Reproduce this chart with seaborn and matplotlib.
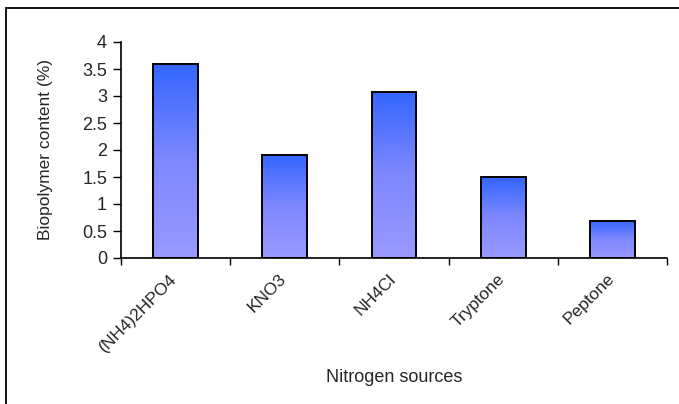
import numpy as np
import pandas as pd
import matplotlib
matplotlib.use("Agg")
import matplotlib.pyplot as plt
import matplotlib.transforms as mtransforms
import seaborn as sns
from matplotlib.patches import Rectangle
from matplotlib.colors import LinearSegmentedColormap

categories = ["(NH4)2HPO4", "KNO3", "NH4Cl", "Tryptone", "Peptone"]
values = [3.6, 1.9, 3.08, 1.5, 0.69]
yticks = [0, 0.5, 1, 1.5, 2, 2.5, 3, 3.5, 4]
ytick_labels = ["0", "0.5", "1", "1.5", "2", "2.5", "3", "3.5", "4"]

sns.set_style("white")
plt.rcParams['font.family'] = ['Liberation Sans', 'DejaVu Sans']

df = pd.DataFrame({"source": categories, "value": values})

fig = plt.figure(figsize=(6.79, 4.04), dpi=100)
ax = fig.add_axes([121/679, 1-258/404, (667-121)/679, (258-42)/404])

sns.barplot(data=df, x="source", y="value", ax=ax, width=0.41,
            color="#6680FF", edgecolor="black", linewidth=1.4, zorder=3)

cmap = LinearSegmentedColormap.from_list("g", ["#9999FF", "#7F88FF", "#3366FF"])
grad = np.linspace(0, 1, 256).reshape(-1, 1)
for p in ax.patches:
    x0, y0 = p.get_x(), p.get_y()
    w, h = p.get_width(), p.get_height()
    im = ax.imshow(grad, cmap=cmap, aspect="auto", origin="lower",
                   extent=[x0, x0 + w, y0, y0 + h], zorder=2.5)
    im.set_clip_path(p)
    p.set_facecolor("none")

ax.set_xlim(-0.5, len(categories) - 0.5)
ax.set_ylim(0, 4)
ax.set_yticks(yticks)
ax.set_yticklabels(ytick_labels, fontsize=13)
ax.set_xticks(range(len(categories)))
ax.set_xticklabels(categories, rotation=45, ha="right", rotation_mode="anchor", fontsize=12.5)
ax.set_xticks(np.arange(-0.5, len(categories)), minor=True)
ax.tick_params(axis="x", which="major", length=0, pad=8)
ax.tick_params(axis="x", which="minor", length=5, width=1, color="black", direction="out", bottom=True)
ax.tick_params(axis="y", length=6, width=1, color="black", direction="out", left=True, pad=4)

offset = mtransforms.ScaledTranslation(-6/100, -2/100, fig.dpi_scale_trans)
for lbl in ax.get_xticklabels():
    lbl.set_transform(lbl.get_transform() + offset)

for s in ["top", "right"]:
    ax.spines[s].set_visible(False)
for s in ["left", "bottom"]:
    ax.spines[s].set_color("black")
    ax.spines[s].set_linewidth(1.2)

ax.set_ylabel("")
ax.set_xlabel("")
fig.text(46/679, 1-150/404, "Biopolymer content (%)", ha="center", va="center",
         rotation=90, fontsize=12.5)
fig.text(394/679, 1-377/404, "Nitrogen sources", ha="center", va="center", fontsize=13)

fig.patches.append(Rectangle((6/679, -0.1), 1.2, 1 - 8/404 + 0.1, transform=fig.transFigure,
                             fill=False, edgecolor="black", linewidth=1.3, figure=fig))

fig.savefig("out.png", dpi=100)
